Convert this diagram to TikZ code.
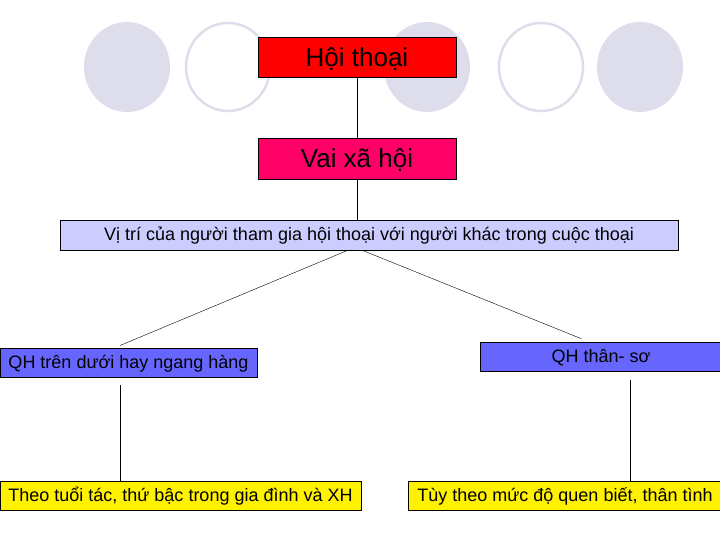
\documentclass[tikz,border=0pt]{standalone}
\usepackage{fontspec}
\setmainfont{Liberation Sans}
\usetikzlibrary{calc}

\definecolor{circgray}{RGB}{221,221,236}
\definecolor{hotpink}{RGB}{255,0,102}
\definecolor{paleblue}{RGB}{204,204,255}
\definecolor{midblue}{RGB}{102,102,255}

\tikzset{
  box/.style={draw=black, thin, rectangle, inner sep=0pt, align=center},
  bigtext/.style={font=\fontsize{26}{28}\selectfont, text height=18.5pt, text depth=0pt},
  smalltext/.style={font=\fontsize{18}{20}\selectfont, text height=12pt, text depth=0.4pt},
  link/.style={draw=black, thin}
}

\begin{document}
\begin{tikzpicture}[x=1pt, y=-1pt]
 \useasboundingbox (0,0) rectangle (720,540);

 %circles on top
 \foreach \cx in {127, 427, 640} {
   \fill[circgray] (\cx,67) ellipse (43 and 45);
 }
 \foreach \cx in {228, 541} {
   \draw[circgray, line width=2.5pt] (\cx,67) ellipse (42 and 44);
 }

 %level 1
 \node[box, bigtext, fill=red, minimum width=198, minimum height=40]
   (hoithoai) at (357,57) {Hội thoại};
 \node[box, bigtext, fill=hotpink, minimum width=198, minimum height=41]
   (vaixahoi) at (357,158.5) {Vai xã hội};
 \node[box, smalltext, fill=paleblue, minimum width=618, minimum height=30]
   (vitri) at (369,235) {Vị trí của người tham gia hội thoại với người khác trong cuộc thoại};

 %level 2
 \node[box, smalltext, fill=midblue, minimum width=257, minimum height=29]
   (trenduoi) at (128.5,362.5) {QH trên dưới hay ngang hàng};
 \node[box, smalltext, fill=midblue, minimum width=242, minimum height=29]
   (thanso) at (601,356.5) {QH thân- sơ};

 %level 3
 \node[box, smalltext, fill=yellow, minimum width=361, minimum height=29]
   (tuoitac) at (180.5,495.5) {Theo tuổi tác, thứ bậc trong gia đình và XH};
 \node[box, smalltext, fill=yellow, minimum width=314, minimum height=29]
   (quenbiet) at (565,495.5) {Tùy theo mức độ quen biết, thân tình};

 %links
 \draw[link] (hoithoai.south) -- (vaixahoi.north);
 \draw[link] (vaixahoi.south) -- (vitri.north -| vaixahoi.south);
 \draw[link, shorten <=1pt, shorten >=6pt] ($(vitri.south)+(-21,0)$) -- ($(trenduoi.north)+(-14,0)$);
 \draw[link, shorten <=1pt, shorten >=8pt] ($(vitri.south)+(-7,0)$) -- ($(thanso.north)+(-12,0)$);
 \draw[link, shorten <=8pt] ($(trenduoi.south)+(-8.5,0)$) -- (tuoitac.north -| 120,0);
 \draw[link, shorten <=9pt] ($(thanso.south)+(29,0)$) -- (quenbiet.north -| 630,0);

\end{tikzpicture}
\end{document}
